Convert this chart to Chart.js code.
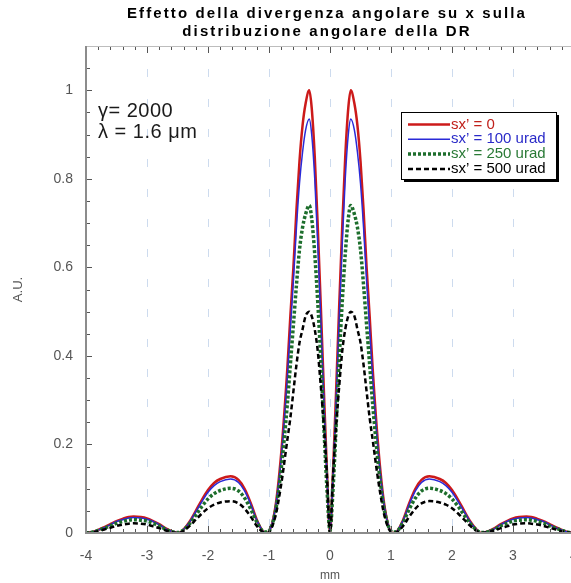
<!DOCTYPE html>
<html lang="it">
<head>
  <meta charset="UTF-8" />
  <title>Effetto della divergenza angolare su x sulla distribuzione angolare della DR</title>
  <script src="https://cdn.jsdelivr.net/npm/chart.js@4"></script>
  <style>
    html, body { margin: 0; padding: 0; background: #fff; overflow: hidden; }
    #wrap { width: 571px; height: 583px; overflow: hidden; }
  </style>
</head>
<body>
  <div id="wrap"><canvas id="dr" width="578" height="583"></canvas></div>

  <script>
    // angolo espresso come posizione sullo schermo (mm)
    const xMm = [
      -4, -3.9, -3.8, -3.7, -3.6, -3.5, -3.4, -3.3, -3.22, -3.1, -3, -2.9, -2.8, -2.7, -2.6, -2.48,
      -2.4, -2.3, -2.2, -2.1, -2, -1.9, -1.8, -1.63, -1.5, -1.4, -1.3, -1.2, -1.1, -1.03,
      -0.9, -0.8, -0.7, -0.65, -0.6, -0.55, -0.5, -0.45, -0.4, -0.34, -0.3, -0.25, -0.2, -0.15, -0.1, -0.05,
      0,
      0.05, 0.1, 0.15, 0.2, 0.25, 0.3, 0.34, 0.4, 0.45, 0.5, 0.55, 0.6, 0.65, 0.7, 0.8, 0.9,
      1.03, 1.1, 1.2, 1.3, 1.4, 1.5, 1.63, 1.8, 1.9, 2, 2.1, 2.2, 2.3, 2.4,
      2.48, 2.6, 2.7, 2.8, 2.9, 3, 3.1, 3.22, 3.3, 3.4, 3.5, 3.6, 3.7, 3.8, 3.9, 4
    ];
    const sx0 = [
      0, 0.002, 0.007, 0.013, 0.02, 0.027, 0.032, 0.036, 0.037, 0.036, 0.033, 0.027, 0.02, 0.011, 0.004, 0,
      0.008, 0.026, 0.05, 0.075, 0.097, 0.113, 0.122, 0.128, 0.12, 0.1, 0.068, 0.03, 0.004, 0,
      0.055, 0.18, 0.37, 0.49, 0.6, 0.73, 0.84, 0.92, 0.97, 1, 0.96, 0.85, 0.69, 0.51, 0.32, 0.14,
      0,
      0.14, 0.32, 0.51, 0.69, 0.85, 0.96, 1, 0.97, 0.92, 0.84, 0.73, 0.6, 0.49, 0.37, 0.18, 0.055,
      0, 0.004, 0.03, 0.068, 0.1, 0.12, 0.128, 0.122, 0.113, 0.097, 0.075, 0.05, 0.026, 0.008,
      0, 0.004, 0.011, 0.02, 0.027, 0.033, 0.036, 0.037, 0.036, 0.032, 0.027, 0.02, 0.013, 0.007, 0.002, 0
    ];
    const sx100 = [
      0, 0.002, 0.007, 0.012, 0.019, 0.026, 0.03, 0.034, 0.035, 0.034, 0.031, 0.026, 0.019, 0.01, 0.004, 0,
      0.008, 0.025, 0.048, 0.071, 0.092, 0.107, 0.116, 0.122, 0.114, 0.095, 0.065, 0.029, 0.004, 0,
      0.053, 0.17, 0.35, 0.46, 0.57, 0.69, 0.79, 0.86, 0.91, 0.935, 0.9, 0.8, 0.65, 0.48, 0.3, 0.13,
      0,
      0.13, 0.3, 0.48, 0.65, 0.8, 0.9, 0.935, 0.91, 0.86, 0.79, 0.69, 0.57, 0.46, 0.35, 0.17, 0.053,
      0, 0.004, 0.029, 0.065, 0.095, 0.114, 0.122, 0.116, 0.107, 0.092, 0.071, 0.048, 0.025, 0.008,
      0, 0.004, 0.01, 0.019, 0.026, 0.031, 0.034, 0.035, 0.034, 0.03, 0.026, 0.019, 0.012, 0.007, 0.002, 0
    ];
    const sx250 = [
      0, 0.002, 0.006, 0.011, 0.016, 0.022, 0.026, 0.029, 0.03, 0.029, 0.027, 0.022, 0.016, 0.009, 0.003, 0.001,
      0.007, 0.021, 0.04, 0.06, 0.077, 0.089, 0.096, 0.101, 0.095, 0.079, 0.054, 0.025, 0.004, 0.002,
      0.045, 0.145, 0.29, 0.38, 0.47, 0.56, 0.64, 0.69, 0.72, 0.74, 0.71, 0.63, 0.52, 0.39, 0.24, 0.1,
      0.005,
      0.1, 0.24, 0.39, 0.52, 0.63, 0.71, 0.74, 0.72, 0.69, 0.64, 0.56, 0.47, 0.38, 0.29, 0.145, 0.045,
      0.002, 0.004, 0.025, 0.054, 0.079, 0.095, 0.101, 0.096, 0.089, 0.077, 0.06, 0.04, 0.021, 0.007,
      0.001, 0.003, 0.009, 0.016, 0.022, 0.027, 0.029, 0.03, 0.029, 0.026, 0.022, 0.016, 0.011, 0.006, 0.002, 0
    ];
    const sx500 = [
      0, 0.001, 0.004, 0.008, 0.012, 0.016, 0.019, 0.021, 0.022, 0.021, 0.019, 0.015, 0.011, 0.006, 0.002, 0,
      0.005, 0.016, 0.03, 0.044, 0.056, 0.064, 0.069, 0.072, 0.067, 0.055, 0.037, 0.016, 0.002, 0,
      0.035, 0.11, 0.21, 0.26, 0.32, 0.38, 0.43, 0.46, 0.49, 0.5, 0.49, 0.46, 0.41, 0.33, 0.24, 0.13,
      0,
      0.13, 0.24, 0.33, 0.41, 0.46, 0.49, 0.5, 0.49, 0.46, 0.43, 0.38, 0.32, 0.26, 0.21, 0.11, 0.035,
      0, 0.002, 0.016, 0.037, 0.055, 0.067, 0.072, 0.069, 0.064, 0.056, 0.044, 0.03, 0.016, 0.005,
      0, 0.002, 0.006, 0.011, 0.015, 0.019, 0.021, 0.022, 0.021, 0.019, 0.016, 0.012, 0.008, 0.004, 0.001, 0
    ];

    const seriesLabels = ["sx’ = 0", "sx’ = 100 urad", "sx’ = 250 urad", "sx’ = 500 urad"];
    const xTicks = [-4, -3, -2, -1, 0, 1, 2, 3, 4];
    const yTicks = [0, 0.2, 0.4, 0.6, 0.8, 1];
    const titleLines = ["Effetto della divergenza angolare su x sulla", "distribuzione angolare della DR"];
    const notes = ["γ= 2000", "λ = 1.6 μm"];

    const FONT = "'Liberation Sans', Arial, sans-serif";

    const pts = ys => xMm.map((x, i) => ({ x: x, y: ys[i] }));

    // cornice, tacche interne, griglia tratteggiata, titolo, note e legenda
    const decor = {
      id: 'decor',
      beforeDraw(chart) {
        const ctx = chart.ctx;
        ctx.save();
        ctx.fillStyle = '#fff';
        ctx.fillRect(0, 0, chart.width, chart.height);
        ctx.restore();
      },
      beforeDatasetsDraw(chart) {
        const { ctx, chartArea: a, scales: { x } } = chart;
        ctx.save();
        ctx.strokeStyle = '#cddbee';
        ctx.lineWidth = 1;
        ctx.setLineDash([8, 22]);
        xTicks.forEach(v => {
          if (v <= -4 || v >= 4) return;
          const px = Math.round(x.getPixelForValue(v)) + 0.5;
          ctx.beginPath();
          ctx.moveTo(px, a.bottom - 6);
          ctx.lineTo(px, a.top);
          ctx.stroke();
        });
        ctx.restore();
      },
      afterDatasetsDraw(chart) {
        const { ctx, chartArea: a, scales: { x, y } } = chart;
        ctx.save();
        // tacche asse x (sotto e sopra)
        ctx.strokeStyle = '#555';
        ctx.lineWidth = 1;
        for (let i = 0; i <= 40; i++) {
          const px = Math.round(x.getPixelForValue(-4 + i * 0.2)) + 0.5;
          const len = i % 5 === 0 ? 7 : 4;
          ctx.beginPath();
          ctx.moveTo(px, a.bottom);
          ctx.lineTo(px, a.bottom - len);
          ctx.moveTo(px, a.top);
          ctx.lineTo(px, a.top + len);
          ctx.stroke();
        }
        // tacche asse y
        for (let i = 0; i <= 22; i++) {
          const py = Math.round(y.getPixelForValue(i * 0.05)) + 0.5;
          const len = i % 4 === 0 ? 6 : 4;
          ctx.beginPath();
          ctx.moveTo(a.left, py);
          ctx.lineTo(a.left + len, py);
          ctx.stroke();
        }
        // assi
        ctx.strokeStyle = '#bdbdbd';
        ctx.lineWidth = 1;
        ctx.beginPath();
        ctx.moveTo(a.left, a.top + 0.5);
        ctx.lineTo(a.right, a.top + 0.5);
        ctx.stroke();
        ctx.strokeStyle = '#8c8c8c';
        ctx.lineWidth = 2;
        ctx.beginPath();
        ctx.moveTo(a.left, a.top);
        ctx.lineTo(a.left, a.bottom);
        ctx.lineTo(a.right, a.bottom);
        ctx.stroke();
        ctx.restore();
      },
      afterDraw(chart) {
        const { ctx } = chart;
        ctx.save();
        // titolo
        ctx.fillStyle = '#000';
        ctx.font = 'bold 15px ' + FONT;
        ctx.letterSpacing = '2.1px';
        ctx.textAlign = 'center';
        ctx.textBaseline = 'middle';
        ctx.fillText(titleLines[0], 327, 14);
        ctx.fillText(titleLines[1], 327, 32);
        // note
        ctx.letterSpacing = '0.5px';
        ctx.font = '20px ' + FONT;
        ctx.fillStyle = '#1a1a1a';
        ctx.textAlign = 'left';
        ctx.fillText(notes[0], 98, 111);
        ctx.fillText(notes[1], 98, 132);
        ctx.letterSpacing = '0px';
        // legenda
        const bx = 401, by = 112, bw = 155, bh = 67;
        ctx.fillStyle = '#000';
        ctx.fillRect(bx + 3, by + 3, bw, bh);
        ctx.fillStyle = '#fff';
        ctx.fillRect(bx, by, bw, bh);
        ctx.strokeStyle = '#000';
        ctx.lineWidth = 1;
        ctx.strokeRect(bx + 0.5, by + 0.5, bw, bh);
        ctx.font = '15px ' + FONT;
        ctx.textBaseline = 'middle';
        chart.data.datasets.forEach((ds, i) => {
          const ry = 124.5 + i * 14.8;
          ctx.strokeStyle = ds.borderColor;
          ctx.lineWidth = ds.borderWidth;
          ctx.setLineDash(ds.borderDash || []);
          ctx.beginPath();
          ctx.moveTo(408, ry);
          ctx.lineTo(450, ry);
          ctx.stroke();
          ctx.setLineDash([]);
          ctx.fillStyle = ds.textColor;
          ctx.fillText(ds.label, 451, ry);
        });
        ctx.restore();
      }
    };

    const common = {
      fill: false,
      pointRadius: 0,
      cubicInterpolationMode: 'monotone',
    };

    new Chart(document.getElementById('dr'), {
      type: 'line',
      data: {
        datasets: [
          { ...common, label: seriesLabels[0], data: pts(sx0), borderColor: '#cc1a1a', textColor: '#c0201a', borderWidth: 2.5, order: 4 },
          { ...common, label: seriesLabels[1], data: pts(sx100), borderColor: '#2a2ad8', textColor: '#2a2ac8', borderWidth: 1.5, order: 3 },
          { ...common, label: seriesLabels[2], data: pts(sx250), borderColor: '#1d6e2c', textColor: '#2a7a36', borderWidth: 3.5, borderDash: [3, 2], order: 2 },
          { ...common, label: seriesLabels[3], data: pts(sx500), borderColor: '#000', textColor: '#000', borderWidth: 2.5, borderDash: [5, 3], order: 1 },
        ],
      },
      options: {
        responsive: false,
        animation: false,
        layout: { padding: { top: 46, right: 4, left: 0, bottom: 0 } },
        plugins: {
          legend: { display: false },
          title: { display: false },
          tooltip: { enabled: false },
        },
        scales: {
          x: {
            type: 'linear',
            min: -4,
            max: 4,
            afterFit: s => { s.height = 50; s.paddingLeft = 0; s.paddingRight = 0; },
            afterBuildTicks: s => { s.ticks = xTicks.map(v => ({ value: v })); },
            grid: { display: false, drawTicks: false },
            border: { display: false },
            ticks: {
              color: '#555',
              padding: 15,
              maxRotation: 0,
              font: { family: FONT, size: 14 },
              callback: v => String(v),
            },
            title: {
              display: true,
              text: 'mm',
              color: '#555',
              font: { family: FONT, size: 12 },
              padding: { top: 0, bottom: 0 },
            },
          },
          y: {
            min: 0,
            max: 1.1,
            afterFit: s => { s.width = 86; s.paddingTop = 0; s.paddingBottom = 0; },
            afterBuildTicks: s => { s.ticks = yTicks.map(v => ({ value: v })); },
            grid: { display: false, drawTicks: false },
            border: { display: false },
            ticks: {
              color: '#555',
              padding: 13,
              font: { family: FONT, size: 14 },
              callback: v => String(v),
            },
            title: {
              display: true,
              text: 'A.U.',
              color: '#555',
              font: { family: FONT, size: 13 },
              padding: { top: 11, bottom: 0 },
            },
          },
        },
      },
      plugins: [decor],
    });
  </script>
</body>
</html>
